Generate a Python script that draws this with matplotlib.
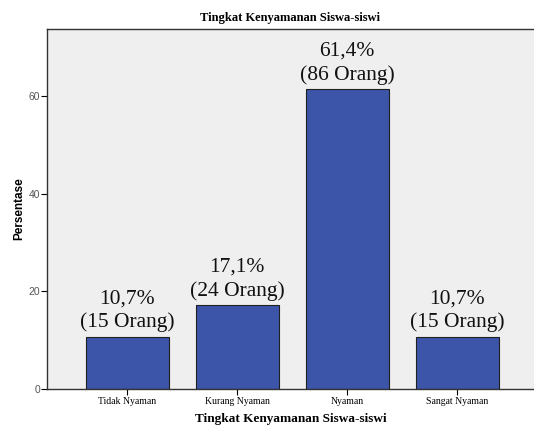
import matplotlib.pyplot as plt
import numpy as np

# Data
categories = ['Tidak Nyaman', 'Kurang Nyaman', 'Nyaman', 'Sangat Nyaman']
percent = [10.7, 17.1, 61.4, 10.7]
counts = [15, 24, 86, 15]

plt.rcParams['font.family'] = ['Liberation Serif', 'DejaVu Serif']

fig = plt.figure(figsize=(5.34, 4.25), dpi=100)
ax = fig.add_axes([0.088, 0.085, 0.912, 0.847])
ax.set_facecolor('#efefef')

x = np.arange(len(categories))
ax.bar(x, percent, width=0.755, color='#3d55a9', edgecolor='#1f1f1f', linewidth=0.8, zorder=2)

for xi, p, c in zip(x, percent, counts):
    lbl = f'{p:.1f}%'.replace('.', ',') + f'\n({c} Orang)'
    ax.text(xi, p + 0.9, lbl, ha='center', va='bottom', fontsize=15.5,
            linespacing=1.3, color='#111111')

ax.set_xlim(-0.732, 3.70)
ax.set_ylim(0, 73.7)
ax.set_xticks(x)
ax.set_xticklabels(categories, fontsize=7)
ax.set_yticks([0, 20, 40, 60])
ax.set_yticklabels(['0', '20', '40', '60'], family='Liberation Sans')
ax.tick_params(axis='y', labelsize=7.5, labelcolor='#555555', length=4, width=0.8, pad=1)
ax.tick_params(axis='x', length=4, width=0.8, pad=2)

ax.spines['right'].set_visible(False)
for s in ['left', 'bottom', 'top']:
    ax.spines[s].set_color('#333333')
    ax.spines[s].set_linewidth(1.0)

ax.set_title('Tingkat Kenyamanan Siswa-siswi', fontsize=9, fontweight='bold', pad=6)
ax.set_xlabel('Tingkat Kenyamanan Siswa-siswi', fontsize=9.5, fontweight='bold', labelpad=5)
ax.set_ylabel('Persentase', fontsize=8.5, fontweight='bold', family='Liberation Sans', labelpad=2)

fig.savefig('out.png', dpi=100)
